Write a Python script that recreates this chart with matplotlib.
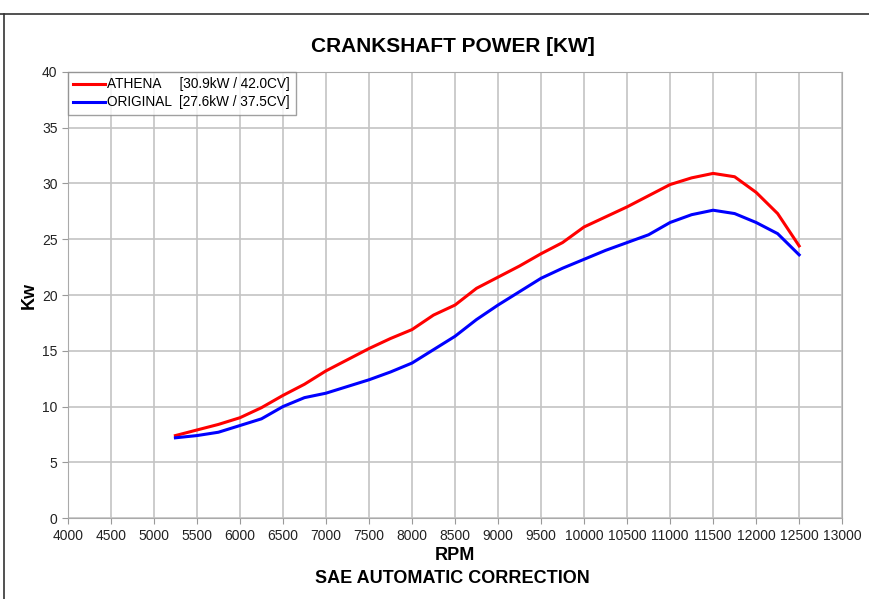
import matplotlib
matplotlib.use("Agg")
import matplotlib.pyplot as plt
from matplotlib.lines import Line2D

plt.rcParams["font.family"] = ["Liberation Sans Narrow", "Liberation Sans", "DejaVu Sans"]

rpm = [5250, 5500, 5750, 6000, 6250, 6500, 6750, 7000, 7250, 7500,
       7750, 8000, 8250, 8500, 8750, 9000, 9250, 9500, 9750, 10000,
       10250, 10500, 10750, 11000, 11250, 11500, 11750, 12000, 12250, 12500]

athena_kw = [7.4, 7.9, 8.4, 9.0, 9.9, 11.0, 12.0, 13.2, 14.2, 15.2,
             16.1, 16.9, 18.2, 19.1, 20.6, 21.6, 22.6, 23.7, 24.7, 26.1,
             27.0, 27.9, 28.9, 29.9, 30.5, 30.9, 30.6, 29.2, 27.3, 24.4]

original_kw = [7.2, 7.4, 7.7, 8.3, 8.9, 10.0, 10.8, 11.2, 11.8, 12.4,
               13.1, 13.9, 15.1, 16.3, 17.8, 19.1, 20.3, 21.5, 22.4, 23.2,
               24.0, 24.7, 25.4, 26.5, 27.2, 27.6, 27.3, 26.5, 25.5, 23.6]

labels = ["ATHENA     [30.9kW / 42.0CV]", "ORIGINAL  [27.6kW / 37.5CV]"]
x_ticks = list(range(4000, 13001, 500))
y_ticks = list(range(0, 41, 5))

fig = plt.figure(figsize=(8.7, 5.99), dpi=100)
ax = fig.add_axes([0.078, 0.135, 0.890, 0.745])

ax.plot(rpm, athena_kw, color="#ff0000", lw=2.2, label=labels[0])
ax.plot(rpm, original_kw, color="#0000ff", lw=2.2, label=labels[1])

ax.set_xlim(4000, 13000)
ax.set_ylim(0, 40)
ax.set_xticks(x_ticks)
ax.set_yticks(y_ticks)
ax.tick_params(labelsize=10, length=4, color="#999999", labelcolor="#222222")
ax.grid(True, color="#c4c4c4", lw=1.2)
ax.set_axisbelow(True)
for s in ax.spines.values():
    s.set_color("#aaaaaa")

ax.set_xlabel("RPM", fontsize=13, fontweight="bold", labelpad=3)
ax.set_ylabel("Kw", fontsize=13, fontweight="bold", labelpad=3)

leg = ax.legend(loc="upper left", fontsize=9.8, frameon=True, fancybox=False,
                borderaxespad=0, handlelength=2.3, handletextpad=0.2,
                borderpad=0.4, labelspacing=0.3)
leg.get_frame().set_edgecolor("#888888")
leg.get_frame().set_linewidth(1.0)

fig.text(0.52, 0.922, "CRANKSHAFT POWER [KW]", ha="center", va="center",
         fontsize=15, fontweight="bold")
fig.text(0.52, 0.034, "SAE AUTOMATIC CORRECTION", ha="center", va="center",
         fontsize=13, fontweight="bold")

# outer frame lines (top and left)
fig.add_artist(Line2D([0.0, 1.0], [1 - 14 / 599, 1 - 14 / 599], color="#333333", lw=1.2))
fig.add_artist(Line2D([4 / 870, 4 / 870], [0.0, 1 - 14 / 599], color="#333333", lw=1.2))

fig.savefig("out.png", dpi=100)
